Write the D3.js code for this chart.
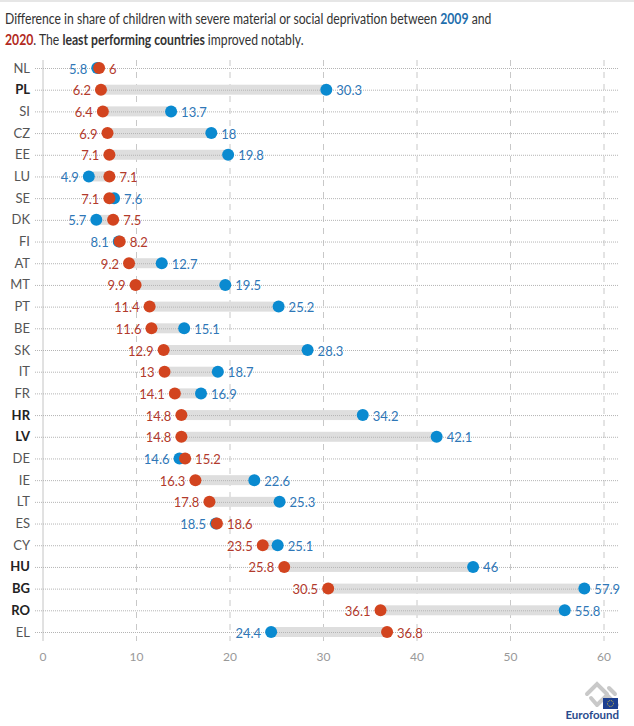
<!DOCTYPE html>
<html><head><meta charset="utf-8">
<script src="https://cdn.jsdelivr.net/npm/d3@7"></script>
<style>
body{margin:0;background:#fff;}
svg{display:block;font-family:Lato, "Open Sans", sans-serif;}
</style></head>
<body><svg id="c" width="634" height="726"></svg>
<script>
const countries = ["NL","PL","SI","CZ","EE","LU","SE","DK","FI","AT","MT","PT","BE","SK","IT","FR","HR","LV","DE","IE","LT","ES","CY","HU","BG","RO","EL"];
const values2020 = [6,6.2,6.4,6.9,7.1,7.1,7.1,7.5,8.2,9.2,9.9,11.4,11.6,12.9,13,14.1,14.8,14.8,15.2,16.3,17.8,18.6,23.5,25.8,30.5,36.1,36.8];
const values2009 = [5.8,30.3,13.7,18,19.8,4.9,7.6,5.7,8.1,12.7,19.5,25.2,15.1,28.3,18.7,16.9,34.2,42.1,14.6,22.6,25.3,18.5,25.1,46,57.9,55.8,24.4];
const boldCountries = ["PL","HR","LV","HU","BG","RO"];
const xTicks = [0,10,20,30,40,50,60];

const RED = "#d2441f", BLUE = "#0a8ad0", RED_T = "#b23a2c", BLUE_T = "#2f77b7";
const svg = d3.select("#c");
const data = countries.map((c,i)=>({c, v20: values2020[i], v09: values2009[i]}));

// top strip
svg.append("rect").attr("x",0).attr("y",0).attr("width",634).attr("height",2).attr("fill","#e6e6e6");

// title (horizontally condensed to mimic a narrow font)
const fs = 15;
const t1 = svg.append("text").attr("x",0).attr("y",0).attr("fill","#333").style("font-size",fs+"px");
t1.append("tspan").text("Difference in share of children with severe material or social deprivation between ");
t1.append("tspan").attr("fill","#1f6fad").style("font-weight","bold").text("2009");
t1.append("tspan").text(" and");
const t2 = svg.append("text").attr("x",0).attr("y",0).attr("fill","#333").style("font-size",fs+"px");
t2.append("tspan").attr("fill","#b22a22").style("font-weight","bold").text("2020");
t2.append("tspan").text(". The ");
t2.append("tspan").style("font-weight","bold").text("least performing countries");
t2.append("tspan").text(" improved notably.");
const k = 487 / t1.node().getComputedTextLength();
t1.attr("transform",`translate(5,24) scale(${k},1)`);
t2.attr("transform",`translate(5,45) scale(${k},1)`);

const x = d3.scaleLinear().domain([0,60]).range([43,604]);
const y = d3.scalePoint().domain(countries).range([68,632]);

// dashed gridlines
svg.append("g").selectAll("line").data(xTicks.slice(1)).join("line")
  .attr("x1",d=>x(d)).attr("x2",d=>x(d)).attr("y1",60).attr("y2",641)
  .attr("stroke","#c8c8c8").attr("stroke-width",1).attr("stroke-dasharray","6,6");
// baseline
svg.append("line").attr("x1",x(0)).attr("x2",x(0)).attr("y1",60).attr("y2",641)
  .attr("stroke","#c4c4c4").attr("stroke-width",1);

// bars
svg.append("g").selectAll("rect").data(data).join("rect")
  .attr("x",d=>x(Math.min(d.v20,d.v09))).attr("width",d=>Math.abs(x(d.v20)-x(d.v09)))
  .attr("y",d=>y(d.c)-5).attr("height",10).attr("fill","#dedede");

// dotted row lines
svg.append("g").selectAll("line").data(countries).join("line")
  .attr("x1",35).attr("x2",618).attr("y1",d=>y(d)+0.5).attr("y2",d=>y(d)+0.5)
  .attr("stroke","#b4b4b4").attr("stroke-width",1).attr("stroke-dasharray","1,1");

// country labels
svg.append("g").selectAll("text").data(countries).join("text")
  .attr("x",30).attr("y",d=>y(d)).attr("dy","0.35em").attr("text-anchor","end")
  .style("font-size","13px")
  .style("font-weight",d=>boldCountries.includes(d)?"bold":"normal")
  .attr("fill",d=>boldCountries.includes(d)?"#222":"#555")
  .text(d=>d);

// dots: blue then red on top
svg.append("g").selectAll("circle").data(data).join("circle")
  .attr("cx",d=>x(d.v09)).attr("cy",d=>y(d.c)).attr("r",6).attr("fill",BLUE);
svg.append("g").selectAll("circle").data(data).join("circle")
  .attr("cx",d=>x(d.v20)).attr("cy",d=>y(d.c)).attr("r",6).attr("fill",RED);

// value labels
const lbl = [];
data.forEach(d=>{
  const lowIs20 = d.v20 <= d.v09;
  const lo = lowIs20 ? d.v20 : d.v09, hi = lowIs20 ? d.v09 : d.v20;
  lbl.push({c:d.c, v:lo, side:"left", col: lowIs20?RED_T:BLUE_T});
  lbl.push({c:d.c, v:hi, side:"right", col: lowIs20?BLUE_T:RED_T});
});
svg.append("g").selectAll("text").data(lbl).join("text")
  .attr("x",d=>d.side==="left"? x(d.v)-10 : x(d.v)+10)
  .attr("y",d=>y(d.c)+1).attr("dy","0.35em")
  .attr("text-anchor",d=>d.side==="left"?"end":"start")
  .style("font-size","13px").attr("fill",d=>d.col)
  .text(d=>d.v);

// x tick labels
svg.append("g").selectAll("text").data(xTicks).join("text")
  .attr("x",d=>x(d)).attr("y",657).attr("dy","0.35em").attr("text-anchor","middle")
  .style("font-size","12px").attr("fill","#999").text(d=>d);

// logo
const lg = svg.append("g");
lg.append("path").attr("d","M587,694 l10,-10 l10,10 M597,705 l10,-10 l10,10 M591,698 l6,7 M609,688 l6,6")
  .attr("fill","none").attr("stroke","#c9c9c9").attr("stroke-width",4).attr("stroke-linecap","round");
lg.append("rect").attr("x",603).attr("y",698).attr("width",15).attr("height",11).attr("fill","#1d3f8f");
lg.append("circle").attr("cx",610.5).attr("cy",703.5).attr("r",3).attr("fill","none").attr("stroke","#f2d230").attr("stroke-width",1).attr("stroke-dasharray","0.8,1");
lg.append("text").attr("x",619).attr("y",719).attr("text-anchor","end").style("font-size","11.5px").style("font-weight","bold").attr("fill","#2a4b8d").text("Eurofound");
</script></body></html>
